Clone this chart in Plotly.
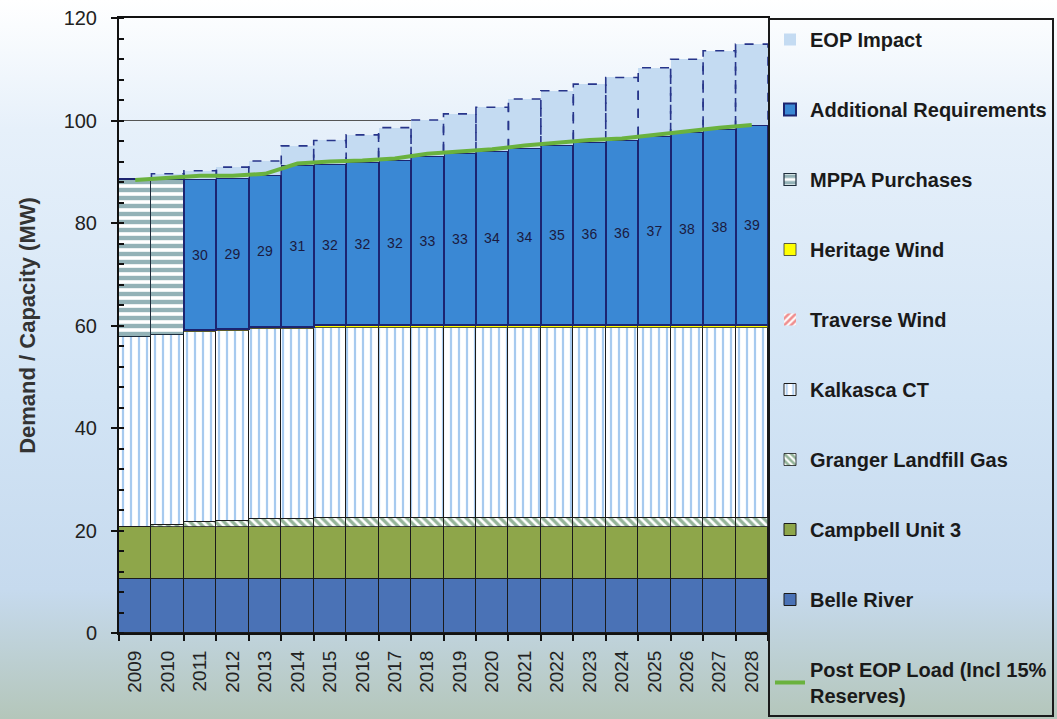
import base64
import plotly.graph_objects as go

# ---------------- data ----------------
years = [2009, 2010, 2011, 2012, 2013, 2014, 2015, 2016, 2017, 2018,
         2019, 2020, 2021, 2022, 2023, 2024, 2025, 2026, 2027, 2028]
year_labels = [str(y) for y in years]

belle_river = [10.5, 10.5, 10.5, 10.5, 10.5, 10.5, 10.5, 10.5, 10.5, 10.5,
               10.5, 10.5, 10.5, 10.5, 10.5, 10.5, 10.5, 10.5, 10.5, 10.5]
campbell_unit3 = [10.2, 10.2, 10.2, 10.2, 10.2, 10.2, 10.2, 10.2, 10.2, 10.2,
                  10.2, 10.2, 10.2, 10.2, 10.2, 10.2, 10.2, 10.2, 10.2, 10.2]
granger_landfill = [0.0, 0.3, 0.9, 1.1, 1.5, 1.5, 1.8, 1.8, 1.8, 1.8,
                    1.8, 1.8, 1.8, 1.8, 1.8, 1.8, 1.8, 1.8, 1.8, 1.8]
kalkasca_ct = [37.1, 37.1, 37.1, 37.1, 37.1, 37.1, 37.1, 37.1, 37.1, 37.1,
               37.1, 37.1, 37.1, 37.1, 37.1, 37.1, 37.1, 37.1, 37.1, 37.1]
traverse_wind = [0, 0, 0, 0, 0, 0, 0, 0, 0, 0,
                 0, 0, 0, 0, 0, 0, 0, 0, 0, 0]
heritage_wind = [0.0, 0.0, 0.5, 0.5, 0.5, 0.5, 0.5, 0.5, 0.5, 0.5,
                 0.5, 0.5, 0.5, 0.5, 0.5, 0.5, 0.5, 0.5, 0.5, 0.5]
mppa_purchases = [30.7, 30.5, 0, 0, 0, 0, 0, 0, 0, 0,
                  0, 0, 0, 0, 0, 0, 0, 0, 0, 0]
additional_req = [0, 0, 29.4, 29.3, 29.5, 31.6, 31.5, 31.9, 32.2, 33.0,
                  33.5, 34.0, 34.6, 35.1, 35.8, 36.1, 36.9, 37.7, 38.3, 39.0]
additional_labels = ["", "", "30", "29", "29", "31", "32", "32", "32", "33",
                     "33", "34", "34", "35", "36", "36", "37", "38", "38", "39"]
eop_impact = [0, 1.0, 1.6, 2.2, 2.8, 3.65, 4.5, 5.2, 6.3, 7.0,
              7.7, 8.5, 9.5, 10.6, 11.2, 12.2, 13.3, 14.15, 15.2, 15.8]
post_eop_load = [88.4, 88.8, 89.2, 89.2, 89.6, 91.6, 92.0, 92.2, 92.6, 93.5,
                 93.9, 94.4, 95.1, 95.7, 96.2, 96.5, 97.2, 97.95, 98.6, 99.1]

# ---------------- figure ----------------
W, H = 1057, 719
ML, MR, MT, MB = 119, 289, 18, 86
FONT = "Arial, Liberation Sans, sans-serif"

fig = go.Figure()

def bar(name, y, color, line_color="#1b1b1b", line_width=1, pattern=None, rank=1, **kw):
    marker = dict(color=color, line=dict(color=line_color, width=line_width))
    if pattern:
        marker["pattern"] = pattern
    fig.add_trace(go.Bar(x=years, y=y, name=name, marker=marker, width=1.0,
                         legendrank=rank, legendgroup=name, **kw))

bar("Belle River", belle_river, "#4a72b6", rank=9)
bar("Campbell Unit 3", campbell_unit3, "#8ea64a", rank=8)
bar("Granger Landfill Gas", granger_landfill, "#ffffff", line_width=0.8,
    pattern=dict(shape="\\", fgcolor="#2a6a34", bgcolor="#ffffff", size=6, solidity=0.55), rank=7)
bar("Kalkasca CT", kalkasca_ct, "#ffffff", line_width=1,
    pattern=dict(shape="|", fgcolor="#4f96e0", bgcolor="#ffffff", size=8, solidity=0.28), rank=6)
bar("Traverse Wind", traverse_wind, "#ffffff", line_width=0,
    pattern=dict(shape="/", fgcolor="#e02020", bgcolor="#ffffff", size=6, solidity=0.55), rank=5)
bar("Heritage Wind", heritage_wind, "#ffff00", line_color="#333333", line_width=0.8, rank=4)
bar("MPPA Purchases", mppa_purchases, "#ffffff", line_color="#1c2b3a", line_width=1.2,
    pattern=dict(shape="-", fgcolor="#27666f", bgcolor="#ffffff", size=8, solidity=0.55), rank=3)
bar("Additional Requirements", additional_req, "#3a88d4", line_color="#1c2470", line_width=2,
    rank=2, text=additional_labels, textposition="inside", insidetextanchor="middle",
    textangle=0, constraintext="none",
    textfont=dict(family=FONT, size=14, color="#1a1a40"))
bar("EOP Impact", eop_impact, "#c4dbf2", line_width=0, rank=1)

# dashed outline of the EOP Impact bars (built from the data)
ox, oy = [], []
for i, yr in enumerate(years):
    if eop_impact[i] <= 0:
        continue
    base = (belle_river[i] + campbell_unit3[i] + granger_landfill[i] + kalkasca_ct[i]
            + traverse_wind[i] + heritage_wind[i] + mppa_purchases[i] + additional_req[i])
    top = base + eop_impact[i]
    ox += [yr - 0.5, yr - 0.5, yr + 0.5, yr + 0.5, None]
    oy += [base, top, top, base, None]
fig.add_trace(go.Scatter(x=ox, y=oy, mode="lines", showlegend=False, hoverinfo="skip",
                         line=dict(color="#27358a", width=1.6, dash="dash")))

fig.add_trace(go.Scatter(x=years, y=post_eop_load, mode="lines",
                         name="Post EOP Load (Incl 15%<br>Reserves)",
                         legendrank=10, legendgroup="load",
                         line=dict(color="#6ab23e", width=4)))

# background gradient image covering the full page
svg = f"""<svg xmlns='http://www.w3.org/2000/svg' width='{W}' height='{H}' preserveAspectRatio='none'>
<defs><linearGradient id='g' x1='0' y1='0' x2='0' y2='1'>
<stop offset='0' stop-color='#ffffff'/>
<stop offset='0.18' stop-color='#e6f0fa'/>
<stop offset='0.55' stop-color='#d2e4f5'/>
<stop offset='0.82' stop-color='#c6daee'/>
<stop offset='1' stop-color='#b4c6ba'/>
</linearGradient></defs>
<rect width='{W}' height='{H}' fill='url(#g)'/></svg>"""
src = "data:image/svg+xml;base64," + base64.b64encode(svg.encode()).decode()
pw, ph = W - ML - MR, H - MT - MB
fig.add_layout_image(dict(source=src, xref="paper", yref="paper",
                          x=-ML / pw, y=1 + MT / ph, sizex=W / pw, sizey=H / ph,
                          xanchor="left", yanchor="top", sizing="stretch", layer="below"))

fig.update_layout(
    width=W, height=H,
    margin=dict(l=ML, r=MR, t=MT, b=MB, autoexpand=False),
    barmode="stack", bargap=0,
    paper_bgcolor="#d6e6f5", plot_bgcolor="rgba(0,0,0,0)",
    font=dict(family=FONT, color="#222222"),
    showlegend=True,
    legend=dict(x=1.0, xanchor="left", xref="paper",
                y=1 - MT / H, yanchor="top", yref="container", maxheight=1,
                traceorder="grouped", tracegroupgap=41,
                bgcolor="rgba(0,0,0,0)", bordercolor="#1a1a1a", borderwidth=2,
                font=dict(family=FONT, size=20, color="#1a1a1a", weight="bold"),
                itemwidth=30),
)
fig.update_xaxes(range=[2008.5, 2028.5], tickvals=years, ticktext=year_labels,
                 tickangle=-90, ticks="", showgrid=False, automargin=False,
                 ticklabelstandoff=8,
                 tickfont=dict(family=FONT, size=19, color="#222222"),
                 showline=True, linecolor="#111111", linewidth=2, mirror=True,
                 minor=dict(tick0=2008.5, dtick=1, ticks="outside", ticklen=6,
                            tickwidth=2, tickcolor="#111111", showgrid=False))
fig.update_yaxes(range=[0, 120], dtick=20, ticks="outside", ticklen=6, tickwidth=2,
                 tickcolor="#111111", automargin=False, ticklabelstandoff=10,
                 showgrid=True, gridcolor="#555555", gridwidth=1,
                 tickfont=dict(family=FONT, size=20, color="#222222"),
                 showline=True, linecolor="#111111", linewidth=2, mirror=True,
                 zeroline=False,
                 minor=dict(dtick=4, ticks="inside", ticklen=5, tickwidth=2,
                            tickcolor="#111111", showgrid=False),
                 title=dict(text="Demand / Capacity (MW)", standoff=22,
                            font=dict(family=FONT, size=22, color="#333333", weight="bold")))

fig.write_html("out.html")
